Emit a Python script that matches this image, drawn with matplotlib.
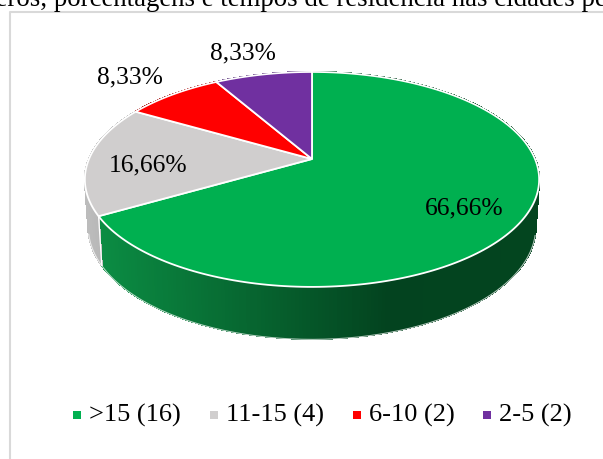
import matplotlib

matplotlib.use("Agg")
import matplotlib.pyplot as plt
import numpy as np
from matplotlib.collections import PolyCollection
from matplotlib.colors import LinearSegmentedColormap
from matplotlib.patches import Polygon

plt.rcParams["font.family"] = ["Liberation Serif", "DejaVu Serif"]

title = "Números, porcentagens e tempos de residência nas cidades pesquisadas"
categories = [">15 (16)", "11-15 (4)", "6-10 (2)", "2-5 (2)"]
values = [66.66, 16.66, 8.33, 8.33]
labels = ["66,66%", "16,66%", "8,33%", "8,33%"]
colors = ["#00b050", "#d0cece", "#ff0000", "#7030a0"]
side_colors = [
    ["#0b8c43", "#03431f", "#03451f"],
    ["#bcbcbc", "#b0b0b0", "#a8a8a8"],
    ["#a00000", "#a00000", "#a00000"],
    ["#4a2070", "#4a2070", "#4a2070"],
]

# pie is drawn in pixel coords, tilted with a simple perspective
CX, CY = 312, 160
RX, RY, PERSP = 223, 103.6, 0.19


def rim(theta, lower=False):
    u, v = np.sin(theta), np.cos(theta)
    x = RX * u / (1 + PERSP * v)
    y = CY - RY * v / (1 + PERSP * v)
    if lower:
        return CX + 0.985 * x, y + 46 - 6 * v
    return CX + x, y


fig = plt.figure(figsize=(6.03, 4.6), dpi=100)
ax = fig.add_axes([0, 0, 1, 1])

ax.plot([603, 9.5, 9.5], [13, 13, 460], color="#d9d9d9", lw=1.5, zorder=1)
ax.text(-58, 6.5, title, fontsize=19.4, color="black", va="baseline", ha="left", zorder=5)

edges = np.cumsum([0] + values) / sum(values) * 2 * np.pi
slices = list(zip(edges[:-1], edges[1:]))

# walls first, the top faces cover whatever is hidden at the back
for (start, end), stops in zip(slices, side_colors):
    theta = np.linspace(start, end, 300)
    x_top, y_top = rim(theta)
    x_low, y_low = rim(theta, lower=True)
    cmap = LinearSegmentedColormap.from_list(
        "side", [(0, stops[0]), (0.66, stops[1]), (1, stops[2])]
    )
    x_min, x_max = min(x_top.min(), x_low.min()), max(x_top.max(), x_low.max())
    quads = []
    shades = []
    for i in range(len(theta) - 1):
        quads.append(
            [
                (x_top[i], y_top[i]),
                (x_top[i + 1], y_top[i + 1]),
                (x_low[i + 1], y_low[i + 1]),
                (x_low[i], y_low[i]),
            ]
        )
        shades.append(cmap((x_top[i] - x_min) / (x_max - x_min)))
    ax.add_collection(
        PolyCollection(quads, facecolors=shades, edgecolors=shades, lw=0.8, antialiaseds=False, zorder=2)
    )
    # soften the jagged lower edge, only along the front of the pie
    front = np.cos(theta) < -0.25
    ax.plot(x_low[front], y_low[front] + 0.5, color="white", lw=0.8, alpha=0.7, zorder=2.05)
    # thin white seam where two walls meet
    ax.plot([x_top[-1], x_low[-1]], [y_top[-1], y_low[-1]], color="white", lw=0.9, zorder=2.1)

for (start, end), color in zip(slices, colors):
    theta = np.linspace(start, end, 200)
    x, y = rim(theta)
    points = np.column_stack([np.r_[CX, x], np.r_[CY, y]])
    ax.add_patch(Polygon(points, closed=True, fc=color, ec="white", lw=1.3, zorder=3))

label_pos = [(464, 208), (148, 165), (130, 77), (243, 53)]
for (lx, ly), text in zip(label_pos, labels):
    ax.text(lx, ly, text, fontsize=18.4, ha="center", va="center", color="black", zorder=4)

legend_x = [73, 210, 353, 483]
for lx, name, color in zip(legend_x, categories, colors):
    ax.add_patch(Polygon([(lx, 412), (lx + 8, 412), (lx + 8, 420), (lx, 420)], closed=True, fc=color, ec="none", zorder=4))
    ax.text(lx + 16, 415, name, fontsize=19, ha="left", va="center", color="black", zorder=4)

ax.set_xlim(0, 603)
ax.set_ylim(460, 0)
ax.axis("off")

fig.savefig("out.png", dpi=100, facecolor="white")
plt.close(fig)
